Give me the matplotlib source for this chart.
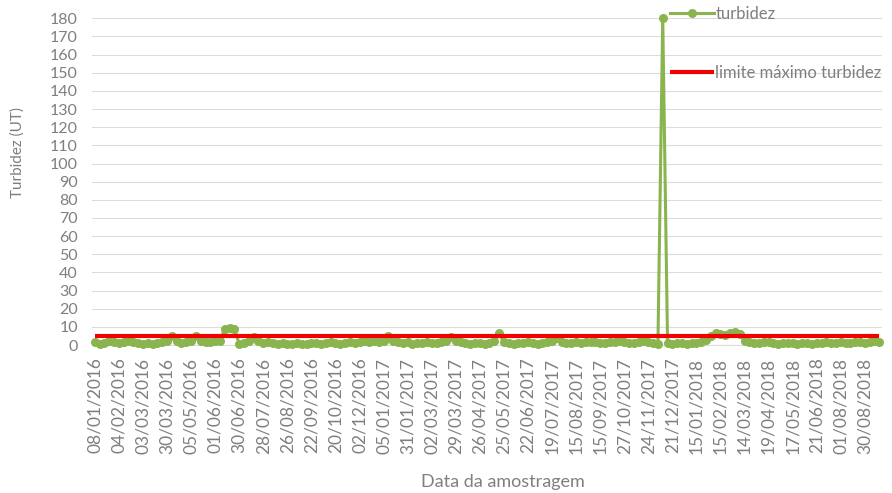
import matplotlib
matplotlib.use("Agg")
import matplotlib.pyplot as plt

GREEN = "#8ab44e"
RED = "#f00000"
TEXT = "#7f7f7f"
GRID = "#dcdcdc"

plt.rcParams.update({
    "font.family": ["Lato", "DejaVu Sans"],
    "text.color": TEXT,
    "axes.labelcolor": TEXT,
    "xtick.color": TEXT,
    "ytick.color": TEXT,
})

# one sample per category; a tick label every 5th sample
tick_labels = [
    "08/01/2016", "04/02/2016", "03/03/2016", "30/03/2016", "05/05/2016",
    "01/06/2016", "30/06/2016", "28/07/2016", "26/08/2016", "22/09/2016",
    "20/10/2016", "02/12/2016", "05/01/2017", "31/01/2017", "02/03/2017",
    "29/03/2017", "26/04/2017", "25/05/2017", "22/06/2017", "19/07/2017",
    "15/08/2017", "15/09/2017", "27/10/2017", "24/11/2017", "21/12/2017",
    "15/01/2018", "15/02/2018", "14/03/2018", "19/04/2018", "17/05/2018",
    "21/06/2018", "01/08/2018", "30/08/2018",
]
LABEL_EVERY = 5

turbidez = [
    1.5, 0.8, 1.2, 2.0, 1.5, 1.0, 1.8, 2.2, 1.5, 1.0,
    0.8, 1.2, 0.5, 1.0, 1.8, 2.5, 4.8, 2.0, 1.2, 1.5,
    2.0, 5.0, 2.2, 1.5, 1.8, 2.0, 2.5, 8.8, 9.2, 8.6,
    0.8, 1.2, 2.0, 4.6, 2.0, 1.0, 1.5, 1.2, 0.8, 1.0,
    0.6, 0.8, 1.0, 0.5, 0.8, 1.0, 1.2, 0.8, 1.0, 1.5,
    1.0, 0.8, 1.2, 1.5, 1.0, 1.8, 2.0, 1.5, 2.2, 1.8,
    2.5, 5.0, 2.5, 1.8, 1.0, 1.5, 0.8, 1.2, 1.0, 1.5,
    1.0, 1.2, 1.8, 2.0, 4.2, 2.0, 1.5, 1.0, 0.8, 1.2,
    1.0, 0.8, 1.2, 2.0, 6.5, 1.5, 1.0, 0.8, 1.0, 1.2,
    1.5, 1.0, 0.8, 1.2, 1.5, 2.0, 4.0, 1.5, 1.0, 1.2,
    1.5, 1.0, 1.5, 1.8, 1.5, 1.2, 1.0, 1.5, 1.8, 2.0,
    1.5, 1.0, 1.2, 1.5, 2.0, 1.5, 1.0, 0.5, 180.0, 1.0,
    0.8, 1.2, 1.0, 0.8, 1.0, 1.2, 1.5, 3.0, 5.0, 6.5,
    6.0, 5.5, 6.5, 7.0, 6.0, 2.0, 1.5, 1.0, 1.2, 1.8,
    1.5, 1.0, 0.8, 1.0, 1.2, 1.0, 0.8, 1.2, 1.0, 0.8,
    1.0, 1.2, 1.5, 1.0, 1.2, 1.5, 1.0, 1.2, 1.8, 1.5,
    1.2, 1.5, 2.0, 1.5,
]
LIMITE = 5  # limite máximo turbidez (UT)

n = len(turbidez)
xs = list(range(n))

fig = plt.figure(figsize=(8.92, 4.93), dpi=100)
ax = fig.add_axes([0.103, 0.300, 0.886, 0.663])

ax.plot(xs, turbidez, color=GREEN, linewidth=2.2, marker="o", markersize=6.5,
        markeredgewidth=0, label="turbidez", zorder=3, clip_on=False)
ax.plot([xs[0], xs[-1]], [LIMITE, LIMITE], color=RED, linewidth=3,
        label="limite máximo turbidez", zorder=4, solid_capstyle="butt")

ax.set_xlim(-0.62, n - 0.4)
ax.set_ylim(0, 180)
ax.set_yticks(range(0, 181, 10))
ax.set_xticks(xs[::LABEL_EVERY][:len(tick_labels)])
ax.set_xticklabels(tick_labels, rotation=90, fontsize=12.5)
ax.tick_params(axis="y", labelsize=11.5, length=0, pad=10)
ax.tick_params(axis="x", length=0, pad=9)

ax.grid(axis="y", color=GRID, linewidth=0.8)
ax.set_axisbelow(True)
for side in ("top", "right", "left"):
    ax.spines[side].set_visible(False)
ax.spines["bottom"].set_color(GRID)

ax.set_ylabel("Turbidez (UT)", fontsize=11)
ax.yaxis.set_label_coords(-0.085, 0.59)
ax.set_xlabel("Data da amostragem", fontsize=13)
ax.xaxis.set_label_coords(0.52, -0.395)

fig.legend(loc="upper left", bbox_to_anchor=(0.744, 1.002), frameon=False,
           fontsize=12, labelspacing=2.6, handlelength=2.6, handletextpad=0.1,
           borderaxespad=0)

fig.savefig("out.png", dpi=100)
